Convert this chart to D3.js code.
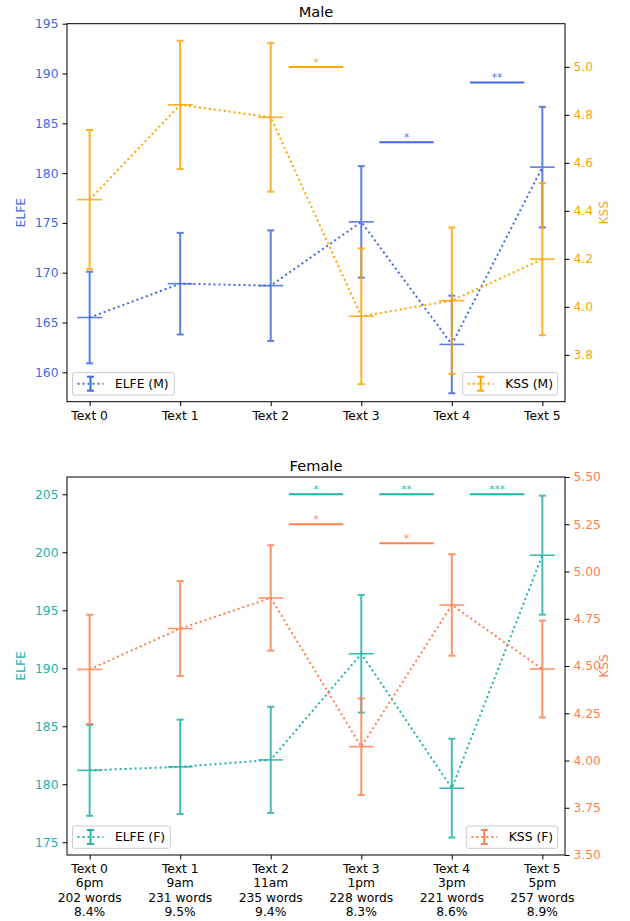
<!DOCTYPE html>
<html>
<head>
<meta charset="utf-8">
<script src="https://cdn.jsdelivr.net/npm/d3@7"></script>
<style>
  body { margin: 0; background: #fff; }
  text { font-family: "DejaVu Sans", sans-serif; }
</style>
</head>
<body>
<svg id="chart" width="630" height="921"></svg>
<script>
// ---------- data ----------
const categories = ["Text 0", "Text 1", "Text 2", "Text 3", "Text 4", "Text 5"];
const times = ["6pm", "9am", "11am", "1pm", "3pm", "5pm"];
const words = ["202 words", "231 words", "235 words", "228 words", "221 words", "257 words"];
const shares = ["8.4%", "9.5%", "9.4%", "8.3%", "8.6%", "8.9%"];

const elfeM = [165.5, 168.9, 168.7, 175.1, 162.8, 180.6];
const elfeMErr = [4.6, 5.1, 5.55, 5.6, 4.9, 6.05];
const kssM = [4.447, 4.842, 4.79, 3.961, 4.026, 4.199];
const kssMErr = [0.29, 0.267, 0.31, 0.283, 0.305, 0.317];

const elfeF = [181.2, 181.5, 182.1, 191.25, 179.66, 199.75];
const elfeFErr = [3.92, 4.07, 4.58, 5.07, 4.26, 5.13];
const kssF = [4.482, 4.698, 4.86, 4.073, 4.823, 4.484];
const kssFErr = [0.289, 0.251, 0.279, 0.2555, 0.2685, 0.256];

const elfeMTicks = [160, 165, 170, 175, 180, 185, 190, 195];
const kssMTicks = [3.8, 4.0, 4.2, 4.4, 4.6, 4.8, 5.0];
const elfeFTicks = [175, 180, 185, 190, 195, 200, 205];
const kssFTicks = [3.5, 3.75, 4.0, 4.25, 4.5, 4.75, 5.0, 5.25, 5.5];

// significance bars: start index, axis, level, stars
const sigM = [
  {from: 2, axis: "kss", level: 5.0, stars: "*"},
  {from: 3, axis: "elfe", level: 183.1, stars: "*"},
  {from: 4, axis: "elfe", level: 189.1, stars: "**"}
];
const sigF = [
  {from: 2, axis: "elfe", level: 205, stars: "*"},
  {from: 3, axis: "elfe", level: 205, stars: "**"},
  {from: 4, axis: "elfe", level: 205, stars: "***"},
  {from: 2, axis: "kss", level: 5.25, stars: "*"},
  {from: 3, axis: "kss", level: 5.15, stars: "*"}
];

const FS = 12.3;
const svg = d3.select("#chart");

function panel(cfg) {
  const {top, bottom, left, right} = cfg;
  const g = svg.append("g");
  const x = d3.scaleLinear().domain([-0.25, 5.25]).range([left, right]);
  const yL = d3.scaleLinear().domain(cfg.elfeDomain).range([bottom, top]);
  const yR = d3.scaleLinear().domain(cfg.kssDomain).range([bottom, top]);

  // frame
  g.append("rect").attr("x", left).attr("y", top)
    .attr("width", right - left).attr("height", bottom - top)
    .attr("fill", "none").attr("stroke", "#000").attr("stroke-width", 1);

  // axes
  const axL = d3.axisLeft(yL).tickValues(cfg.elfeTicks).tickSize(4.5).tickPadding(4).tickFormat(d3.format("d"));
  const gL = g.append("g").attr("transform", `translate(${left},0)`).call(axL);
  const axR = d3.axisRight(yR).tickValues(cfg.kssTicks).tickSize(4.5).tickPadding(4).tickFormat(cfg.kssFormat);
  const gR = g.append("g").attr("transform", `translate(${right},0)`).call(axR);
  const axB = d3.axisBottom(x).tickValues(d3.range(6)).tickSize(4.5).tickFormat(() => "");
  const gB = g.append("g").attr("transform", `translate(0,${bottom})`).call(axB);
  [gL, gR, gB].forEach(a => {
    a.select(".domain").remove();
    a.selectAll(".tick line").attr("stroke", "#000").attr("stroke-width", 1);
  });
  gL.selectAll(".tick text").attr("fill", cfg.cL).attr("font-size", FS).attr("font-family", "DejaVu Sans");
  gR.selectAll(".tick text").attr("fill", cfg.cR).attr("font-size", FS).attr("font-family", "DejaVu Sans");

  // x labels
  const xl = g.append("g");
  categories.forEach((c, i) => {
    const t = xl.append("text").attr("x", x(i)).attr("y", bottom + 18.3)
      .attr("text-anchor", "middle").attr("font-size", FS).attr("fill", "#000");
    const lines = cfg.multiline ? [c, times[i], words[i], shares[i]] : [c];
    lines.forEach((ln, k) => {
      t.append("tspan").attr("x", x(i)).attr("dy", k === 0 ? 0 : 14.1).text(ln);
    });
  });

  // axis labels
  g.append("text").attr("transform", `translate(21,${(top + bottom) / 2}) rotate(-90)`)
    .attr("text-anchor", "middle").attr("dominant-baseline", "central")
    .attr("font-size", FS).attr("fill", cfg.cL).text("ELFE");
  g.append("text").attr("transform", `translate(604,${(top + bottom) / 2}) rotate(-90)`)
    .attr("text-anchor", "middle").attr("dominant-baseline", "central")
    .attr("font-size", FS).attr("fill", cfg.cR).text("KSS");

  // title
  g.append("text").attr("x", (left + right) / 2).attr("y", top - 6.5)
    .attr("text-anchor", "middle").attr("font-size", 14.6).attr("fill", "#000").text(cfg.title);

  // series
  function series(vals, errs, y, color) {
    const s = g.append("g");
    const line = d3.line().x((d, i) => x(i)).y(d => y(d));
    s.append("path").datum(vals).attr("d", line).attr("fill", "none")
      .attr("stroke", color).attr("stroke-width", 2).attr("stroke-dasharray", "2,3");
    const eb = s.append("g").attr("opacity", 0.85);
    vals.forEach((v, i) => {
      const cx = x(i);
      eb.append("line").attr("x1", cx).attr("x2", cx).attr("y1", y(v - errs[i])).attr("y2", y(v + errs[i]))
        .attr("stroke", color).attr("stroke-width", 2);
      [v - errs[i], v + errs[i]].forEach(e => {
        eb.append("line").attr("x1", cx - 3.5).attr("x2", cx + 3.5).attr("y1", y(e)).attr("y2", y(e))
          .attr("stroke", color).attr("stroke-width", 2);
      });
      eb.append("line").attr("x1", cx - 12.5).attr("x2", cx + 12.5).attr("y1", y(v)).attr("y2", y(v))
        .attr("stroke", color).attr("stroke-width", 1.6);
    });
  }
  series(cfg.elfe, cfg.elfeErr, yL, cfg.cL);
  series(cfg.kss, cfg.kssErr, yR, cfg.cR);

  // significance
  cfg.sig.forEach(s => {
    const yy = s.axis === "elfe" ? yL(s.level) : yR(s.level);
    const col = s.axis === "elfe" ? cfg.cL : cfg.cR;
    g.append("line").attr("x1", x(s.from + 0.2)).attr("x2", x(s.from + 0.8))
      .attr("y1", yy).attr("y2", yy).attr("stroke", col).attr("stroke-width", 2);
    g.append("text").attr("x", x(s.from + 0.5)).attr("y", yy - 1)
      .attr("text-anchor", "middle").attr("font-size", 10.5).attr("fill", col).attr("opacity", 0.9).text(s.stars);
  });

  // legends
  function legend(lx, ly, w, label, color) {
    const lg = g.append("g");
    lg.append("rect").attr("x", lx).attr("y", ly).attr("width", w).attr("height", 22.3)
      .attr("rx", 2).attr("fill", "#fff").attr("fill-opacity", 0.8)
      .attr("stroke", "#ccc").attr("stroke-width", 1);
    const cy = ly + 11;
    const hx = lx + 5;
    lg.append("line").attr("x1", hx).attr("x2", hx + 26).attr("y1", cy).attr("y2", cy)
      .attr("stroke", color).attr("stroke-width", 2).attr("stroke-dasharray", "2,3");
    const hc = hx + 13;
    lg.append("line").attr("x1", hc).attr("x2", hc).attr("y1", cy - 7).attr("y2", cy + 7)
      .attr("stroke", color).attr("stroke-width", 2);
    [cy - 7, cy + 7].forEach(e => lg.append("line").attr("x1", hc - 3.5).attr("x2", hc + 3.5)
      .attr("y1", e).attr("y2", e).attr("stroke", color).attr("stroke-width", 2));
    lg.append("text").attr("x", lx + 42.5).attr("y", cy).attr("dominant-baseline", "central")
      .attr("font-size", FS).attr("fill", "#000").text(label);
  }
  legend(72.5, bottom - 29, cfg.legLW, cfg.legL, cfg.cL);
  legend(cfg.legRX, bottom - 29, 557.7 - cfg.legRX, cfg.legR, cfg.cR);
}

panel({
  top: 23.7, bottom: 401.7, left: 67, right: 565,
  elfeDomain: [157.05, 195.0], kssDomain: [3.605, 5.18],
  elfeTicks: elfeMTicks, kssTicks: kssMTicks, kssFormat: d3.format(".1f"),
  elfe: elfeM, elfeErr: elfeMErr, kss: kssM, kssErr: kssMErr,
  cL: "#4169e1", cR: "#ffa500", title: "Male", multiline: false,
  sig: sigM, legL: "ELFE (M)", legR: "KSS (M)", legLW: 101.8, legRX: 462.7
});

panel({
  top: 477, bottom: 855, left: 67, right: 565,
  elfeDomain: [173.9, 206.49], kssDomain: [3.5, 5.5],
  elfeTicks: elfeFTicks, kssTicks: kssFTicks, kssFormat: d3.format(".2f"),
  elfe: elfeF, elfeErr: elfeFErr, kss: kssF, kssErr: kssFErr,
  cL: "#20b2aa", cR: "#ff7f50", title: "Female", multiline: true,
  sig: sigF, legL: "ELFE (F)", legR: "KSS (F)", legLW: 97.8, legRX: 466.3
});
</script>
</body>
</html>
